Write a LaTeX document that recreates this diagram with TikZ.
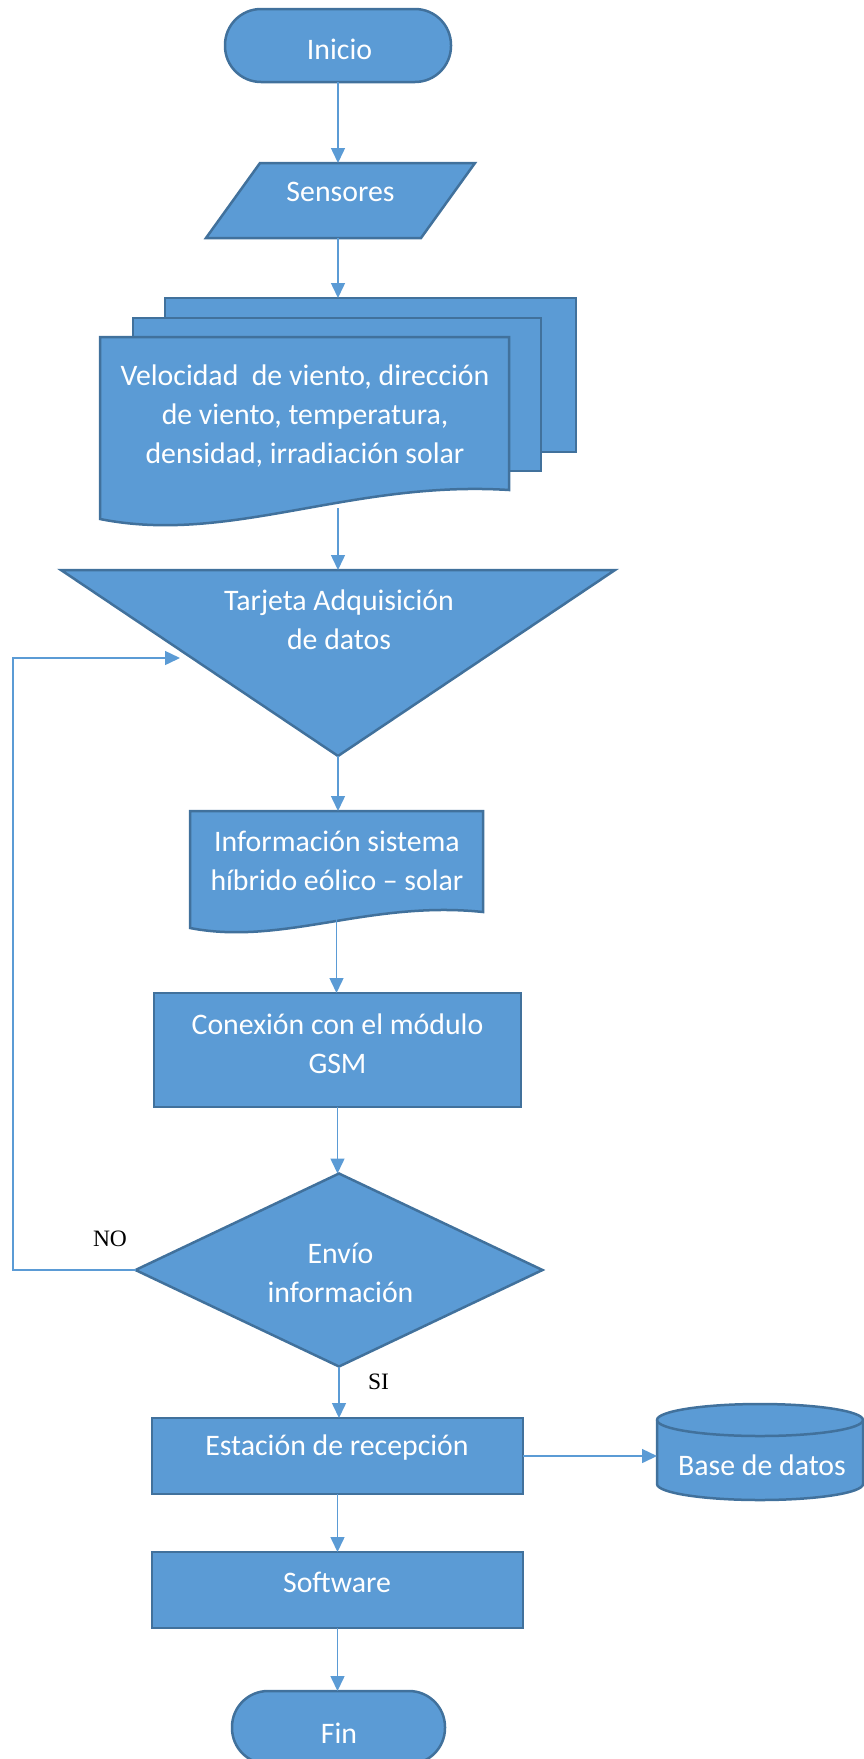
\documentclass[tikz,border=0pt]{standalone}
\usepackage{fontspec}
\setmainfont{Carlito}
\newfontfamily\serifnf{Liberation Serif}
\usetikzlibrary{arrows.meta,calc}
\definecolor{fillc}{HTML}{5B9BD5}
\definecolor{bordc}{HTML}{41719C}
\begin{document}
\begin{tikzpicture}[x=1pt,y=1pt,
  shp/.style={draw=bordc, fill=fillc, line width=2.5pt, line join=miter},
  boxn/.style={shp, rectangle, inner sep=0pt, outer sep=0pt},
  termn/.style={boxn, rounded corners=36pt},
  ghost/.style={rectangle, inner sep=0pt, outer sep=0pt},
  txt/.style={text=white, font=\fontsize{29.8}{39}\selectfont, align=center, inner sep=0pt},
  lbl/.style={font=\serifnf\fontsize{23.5}{27}\selectfont, inner sep=0pt},
  arr/.style={draw=fillc, line width=1.5pt, -{Triangle[length=15pt,width=14pt]}},
]
\useasboundingbox (0,0) rectangle (863,-1759);

% ---- shapes ----
\node[termn, minimum width=226pt, minimum height=73pt] (inicio) at (338,-45.5) {};

\node[ghost, minimum width=269pt, minimum height=75pt] (sens) at (340.5,-200.5) {};
\draw[shp] ($(sens.north west)+(54,0)$) -- (sens.north east) -- ($(sens.south east)+(-54,0)$) -- (sens.south west) -- cycle;

\node[ghost, minimum width=476pt, minimum height=210pt] (docs) at (338,-403) {};
\draw[shp] (165,-298) rectangle (576,-452);
\draw[shp] (133,-318) rectangle (541,-471);
\draw[shp] (100,-337) -- (509,-337) -- (509,-490) .. controls (350,-480) and (230,-545) .. (100,-519) -- cycle;

\node[ghost, minimum width=554pt, minimum height=186pt] (tarj) at (338,-663) {};
\draw[shp] (tarj.north west) -- (tarj.north east) -- (tarj.south) -- cycle;

\node[ghost, minimum width=293pt, minimum height=108pt] (info) at (336.5,-865) {};
\draw[shp] (190,-811) -- (483,-811) -- (483,-912) .. controls (369,-900) and (283,-946) .. (190,-928) -- cycle;

\node[boxn, minimum width=367pt, minimum height=114pt] (conex) at (337.5,-1050) {};

\node[ghost, minimum width=407pt, minimum height=193pt] (dia) at (339,-1270) {};
\draw[shp] (dia.west) -- (dia.north) -- (dia.east) -- (dia.south) -- cycle;

\node[boxn, minimum width=371pt, minimum height=76pt] (est) at (337.5,-1456) {};

\node[ghost, minimum width=206pt, minimum height=96pt] (base) at (760,-1452) {};
\draw[shp] (657,-1420) -- (657,-1484) arc[start angle=180, end angle=360, x radius=103, y radius=16]
  -- (863,-1420) arc[start angle=0, end angle=180, x radius=103, y radius=16] -- cycle;
\draw[draw=bordc, line width=2.5pt] (657,-1420) arc[start angle=180, end angle=360, x radius=103, y radius=16];

\node[boxn, minimum width=371pt, minimum height=76pt] (soft) at (337.5,-1590) {};

\node[termn, minimum width=213pt, minimum height=73pt] (fin) at (338.5,-1727.5) {};

% ---- connectors ----
\coordinate (loopc) at (13,-658);
\coordinate (loopend) at (180,-658);
\draw[arr] (inicio.south) -- (inicio.south |- sens.north);
\draw[arr] (docs.north |- sens.south) -- (docs.north);
\draw[arr] (docs.south) -- (docs.south |- tarj.north);
\draw[arr] (tarj.south) -- (tarj.south |- info.north);
\draw[arr] (info.south) -- (info.south |- conex.north);
\draw[arr] (conex.south) -- (conex.south |- dia.north);
\draw[arr] (dia.west) -| (loopc) -- (loopend);
\draw[arr] (dia.south) -- (dia.south |- est.north);
\draw[arr] (est.east) -- (est.east -| base.west);
\draw[arr] (est.south) -- (est.south |- soft.north);
\draw[arr] (soft.south) -- (soft.south |- fin.north);

% ---- texts ----
\node[txt] (t-inicio) at (339.5,-49.5) {Inicio};
\node[txt] (t-sens) at (340.5,-192) {Sensores};
\node[txt] (t-docs) at (305,-416.5) {Velocidad~ de viento, dirección\\de viento, temperatura,\\densidad, irradiación solar};
\node[txt] (t-tarj) at (339,-619.5) {Tarjeta Adquisición\\de datos};
\node[txt] (t-info) at (337,-861) {Información sistema\\híbrido eólico – solar};
\node[txt] (t-conex) at (337.5,-1044) {Conexión con el módulo\\GSM};
\node[txt] (t-dia) at (340.5,-1272.5) {Envío\\información};
\node[txt] (t-est) at (337,-1447.5) {Estación de recepción};
\node[txt] (t-base) at (762,-1465) {Base de datos};
\node[txt] (t-soft) at (337,-1582.5) {Software};
\node[txt] (t-fin) at (339,-1733) {Fin};
\node[lbl] (t-no) at (110,-1239) {NO};
\node[lbl] (t-si) at (378.5,-1381.5) {SI};
\end{tikzpicture}
\end{document}
